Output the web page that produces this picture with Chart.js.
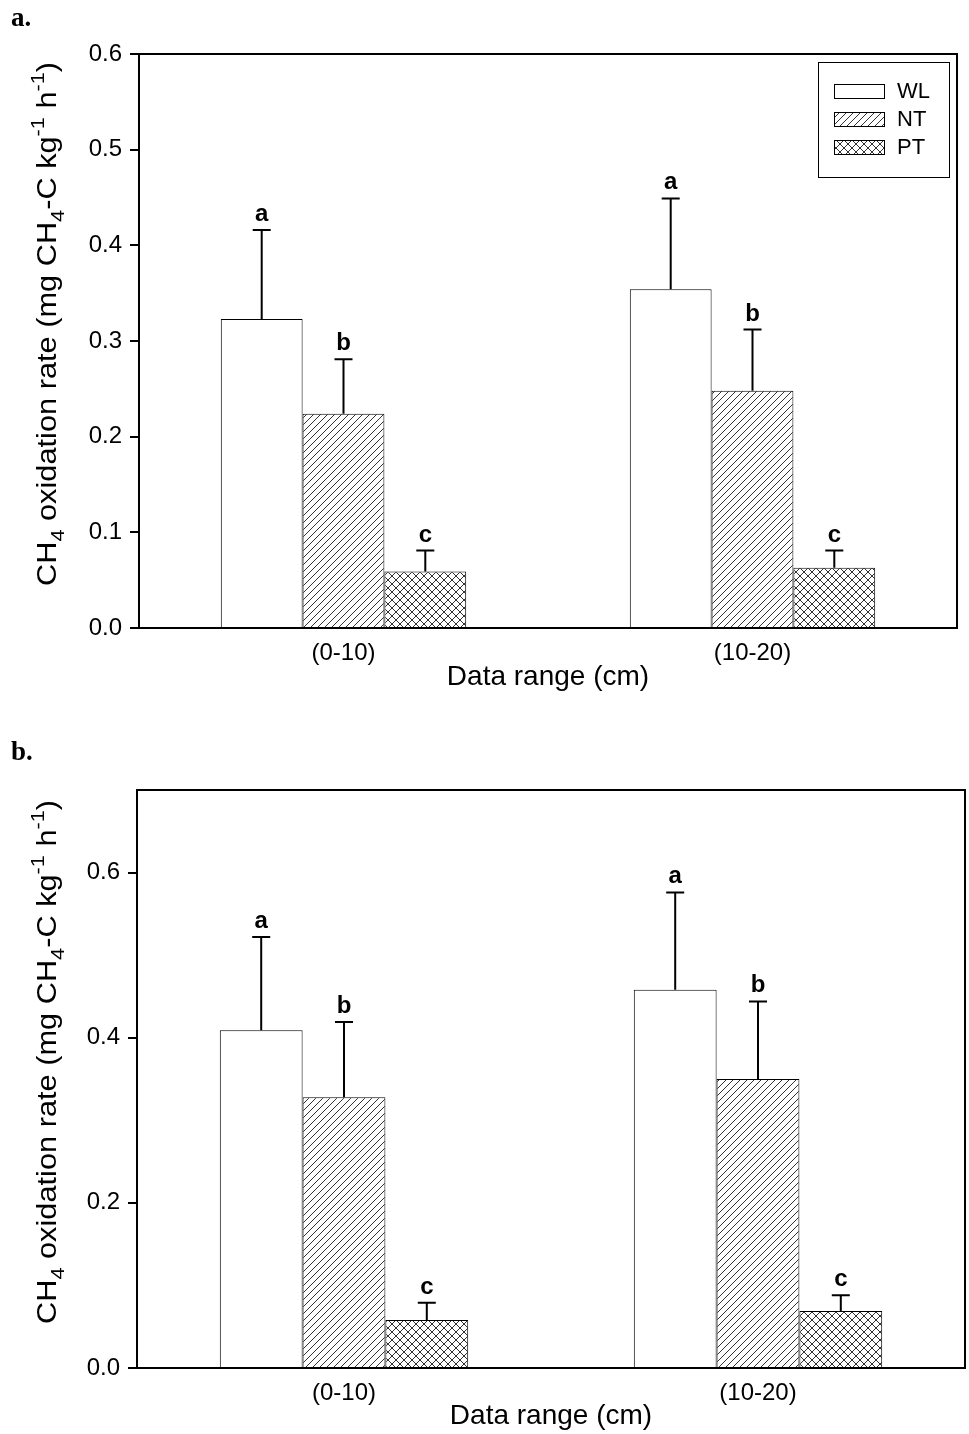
<!DOCTYPE html>
<html>
<head>
<meta charset="utf-8">
<script src="https://cdn.jsdelivr.net/npm/chart.js@4.4.1/dist/chart.umd.min.js"></script>
<style>
  body { margin: 0; background: #fff; width: 969px; height: 1434px; position: relative; overflow: hidden; }
  .panel { position: absolute; left: 0; width: 969px; }
  .tag { position: absolute; left: 11px; font: bold 27px "Liberation Serif", "Times New Roman", serif; z-index: 2; }
</style>
</head>
<body>
<div class="panel" style="top:0; height:700px"><canvas id="chartA"></canvas></div>
<div class="panel" style="top:700px; height:734px"><canvas id="chartB"></canvas></div>
<div class="tag" style="top:2px">a.</div>
<div class="tag" style="top:736px">b.</div>

<script>
// categories / series
const depthRanges = ['(0-10)', '(10-20)'];
const treatments = ['WL', 'NT', 'PT'];

// panel a: means and upper error (sd)
const wlA = [0.323, 0.354];
const ntA = [0.224, 0.248];
const ptA = [0.059, 0.063];
const wlErrA = [0.093, 0.095];
const ntErrA = [0.057, 0.064];
const ptErrA = [0.022, 0.018];

// panel b
const wlB = [0.409, 0.458];
const ntB = [0.328, 0.350];
const ptB = [0.058, 0.069];
const wlErrB = [0.113, 0.118];
const ntErrB = [0.091, 0.094];
const ptErrB = [0.021, 0.019];

// significance letters
const wlLetters = ['a', 'a'];
const ntLetters = ['b', 'b'];
const ptLetters = ['c', 'c'];

// tick values
const ticksA = [0, 0.1, 0.2, 0.3, 0.4, 0.5, 0.6];
const ticksB = [0, 0.2, 0.4, 0.6];

const FONT = '"Liberation Sans", Arial, sans-serif';

// hatch fill: "/" lines, or crossed lines
function makePattern(size, cross) {
    const c = document.createElement('canvas');
    c.width = c.height = size;
    const g = c.getContext('2d');
    g.fillStyle = '#fff';
    g.fillRect(0, 0, size, size);
    g.strokeStyle = '#333';
    g.lineWidth = 1;
    g.beginPath();
    g.moveTo(0, size); g.lineTo(size, 0);
    g.moveTo(-1, 1); g.lineTo(1, -1);
    g.moveTo(size - 1, size + 1); g.lineTo(size + 1, size - 1);
    if (cross) {
        g.moveTo(0, 0); g.lineTo(size, size);
        g.moveTo(-1, size - 1); g.lineTo(1, size + 1);
        g.moveTo(size - 1, -1); g.lineTo(size + 1, 1);
    }
    g.stroke();
    return g.createPattern(c, 'repeat');
}

const fills = {
    WL: '#ffffff',
    NT: makePattern(7, false),
    PT: makePattern(8, true)
};

// error bars + letters above the caps
const errorBars = {
    id: 'errorBars',
    afterDatasetsDraw(chart) {
        const ctx = chart.ctx;
        const y = chart.scales.y;
        chart.data.datasets.forEach((ds, i) => {
            chart.getDatasetMeta(i).data.forEach((bar, j) => {
                const top = y.getPixelForValue(ds.data[j] + ds.errors[j]);
                ctx.save();
                ctx.strokeStyle = '#000';
                ctx.lineWidth = 2;
                ctx.beginPath();
                ctx.moveTo(bar.x, bar.y);
                ctx.lineTo(bar.x, top);
                ctx.moveTo(bar.x - 9, top);
                ctx.lineTo(bar.x + 9, top);
                ctx.stroke();
                ctx.fillStyle = '#000';
                ctx.font = 'bold 24px ' + FONT;
                ctx.textAlign = 'center';
                ctx.textBaseline = 'alphabetic';
                ctx.fillText(ds.letters[j], bar.x, top - 9);
                ctx.restore();
            });
        });
    }
};

// box round the plot area
const frame = {
    id: 'frame',
    afterDraw(chart) {
        const a = chart.chartArea;
        const ctx = chart.ctx;
        ctx.save();
        ctx.strokeStyle = '#000';
        ctx.lineWidth = 2;
        ctx.strokeRect(a.left, a.top, a.right - a.left, a.bottom - a.top);
        ctx.restore();
    }
};

// y title with sub- and superscripts
const titleParts = [
    ['CH', 0], ['4', 1], [' oxidation rate (mg CH', 0], ['4', 1],
    ['-C kg', 0], ['-1', -1], [' h', 0], ['-1', -1], [')', 0]
];
const yTitle = {
    id: 'yTitle',
    afterDraw(chart, args, opts) {
        const ctx = chart.ctx;
        const a = chart.chartArea;
        const size = opts.size;
        const big = size + 'px ' + FONT;
        const small = Math.round(size * 0.7) + 'px ' + FONT;
        ctx.save();
        let w = 0;
        titleParts.forEach(([t, s]) => {
            ctx.font = s ? small : big;
            w += ctx.measureText(t).width;
        });
        const k = opts.length / w;
        ctx.translate(opts.x, (a.top + a.bottom) / 2 + opts.shift);
        ctx.rotate(-Math.PI / 2);
        ctx.scale(k, 1);
        ctx.fillStyle = '#000';
        ctx.textBaseline = 'alphabetic';
        let x = -w / 2;
        titleParts.forEach(([t, s]) => {
            ctx.font = s ? small : big;
            const dy = s === 1 ? size * 0.28 : s === -1 ? -size * 0.45 : 0;
            ctx.fillText(t, x, dy);
            x += ctx.measureText(t).width;
        });
        ctx.restore();
    }
};

// legend box in the top right corner
const boxLegend = {
    id: 'boxLegend',
    afterDraw(chart, args, opts) {
        if (!opts.show) return;
        const ctx = chart.ctx;
        const a = chart.chartArea;
        const bw = 131, bh = 115;
        const bx = a.right - 8 - bw, by = a.top + 8;
        ctx.save();
        ctx.fillStyle = '#fff';
        ctx.fillRect(bx, by, bw, bh);
        ctx.strokeStyle = '#000';
        ctx.lineWidth = 1;
        ctx.strokeRect(bx + 0.5, by + 0.5, bw, bh);
        ctx.font = '22px ' + FONT;
        ctx.textBaseline = 'middle';
        chart.data.datasets.forEach((ds, i) => {
            const cy = by + 29 + i * 28;
            ctx.fillStyle = ds.backgroundColor;
            ctx.fillRect(bx + 16, cy - 7, 50, 14);
            ctx.strokeStyle = '#000';
            ctx.strokeRect(bx + 16.5, cy - 6.5, 50, 14);
            ctx.fillStyle = '#000';
            ctx.fillText(ds.label, bx + 79, cy + 1);
        });
        ctx.restore();
    }
};

function dataset(name, values, errors, letters) {
    return {
        label: name,
        data: values,
        errors: errors,
        letters: letters,
        backgroundColor: fills[name],
        borderColor: '#000',
        borderWidth: 1,
        categoryPercentage: 0.6,
        barPercentage: 1.0
    };
}

function makeChart(id, sets, cfg) {
    return new Chart(document.getElementById(id), {
        type: 'bar',
        data: { labels: depthRanges, datasets: sets },
        plugins: [errorBars, frame, yTitle, boxLegend],
        options: {
            responsive: true,
            maintainAspectRatio: false,
            animation: false,
            layout: { padding: { top: cfg.top, right: cfg.right, left: 0, bottom: 0 } },
            plugins: {
                legend: { display: false },
                tooltip: { enabled: false },
                yTitle: { size: 27, length: 524, x: 56, shift: -17 },
                boxLegend: { show: cfg.legend }
            },
            scales: {
                x: {
                    afterFit: s => { s.height = cfg.xHeight; },
                    grid: { display: false, drawTicks: false },
                    border: { display: false },
                    ticks: { color: '#000', padding: 11, font: { family: FONT, size: 24 } },
                    title: {
                        display: true,
                        text: 'Data range (cm)',
                        color: '#000',
                        padding: { top: 0, bottom: cfg.titlePad },
                        font: { family: FONT, size: 28 }
                    }
                },
                y: {
                    min: 0,
                    max: cfg.max,
                    afterFit: s => { s.width = cfg.left; },
                    afterBuildTicks: s => { s.ticks = cfg.ticks.map(v => ({ value: v })); },
                    grid: { drawOnChartArea: false, drawTicks: true, tickLength: 9, color: '#000', lineWidth: 2 },
                    border: { display: false },
                    ticks: {
                        color: '#000',
                        padding: 8,
                        font: { family: FONT, size: 24 },
                        callback: v => v.toFixed(1)
                    }
                }
            }
        }
    });
}

makeChart('chartA', [
    dataset('WL', wlA, wlErrA, wlLetters),
    dataset('NT', ntA, ntErrA, ntLetters),
    dataset('PT', ptA, ptErrA, ptLetters)
], { top: 54, right: 12, left: 139, xHeight: 72, titlePad: 6, max: 0.6, ticks: ticksA, legend: true });

makeChart('chartB', [
    dataset('WL', wlB, wlErrB, wlLetters),
    dataset('NT', ntB, ntErrB, ntLetters),
    dataset('PT', ptB, ptErrB, ptLetters)
], { top: 90, right: 4, left: 137, xHeight: 66, titlePad: 1, max: 0.7, ticks: ticksB, legend: false });
</script>
</body>
</html>
